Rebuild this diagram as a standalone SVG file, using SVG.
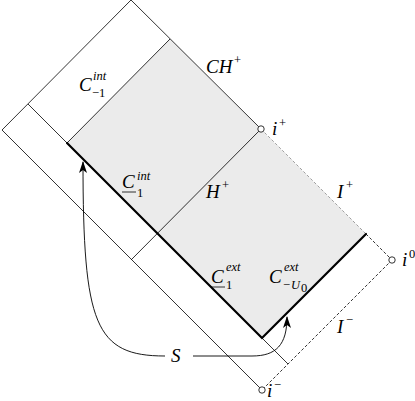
<svg xmlns="http://www.w3.org/2000/svg" width="415" height="401" viewBox="0 0 415 401">
<defs>
<style>
.thin{fill:none;stroke:#000;stroke-width:0.8}
.thick{fill:none;stroke:#000;stroke-width:2.2;stroke-linecap:round}
.dash{fill:none;stroke:#000;stroke-width:0.8;stroke-dasharray:3,2}
.dashg{fill:none;stroke:#888;stroke-width:0.8;stroke-dasharray:3,2}
.pt{fill:#fff;stroke:#000;stroke-width:0.8}
.m{font-family:"Liberation Serif",serif;font-style:italic;font-size:19px;fill:#000}
.s{font-family:"Liberation Serif",serif;font-style:italic;font-size:12.5px;fill:#000}
.r{font-family:"Liberation Serif",serif;font-size:12.5px;fill:#000}
.ul{stroke:#000;stroke-width:0.8}
.conn{fill:none;stroke:#000;stroke-width:0.9}
</style>
<marker id="ah" viewBox="0 0 12 8" refX="11" refY="4" markerWidth="12" markerHeight="8" markerUnits="userSpaceOnUse" orient="auto">
<path d="M0,0 L12,4 L0,8 L3,4 Z" fill="#000"/>
</marker>
</defs>
<rect width="415" height="401" fill="#fff"/>
<g id="shaded-region">
<polygon points="170,39 366,234 262,338 67,143" fill="#ebebeb"/>
</g>
<g id="spacetime">
<polyline class="thin" points="261,129 131,0 2,130 262,390"/>
<line class="thin" x1="28" y1="104" x2="67" y2="143"/>
<line class="thin" x1="170" y1="39" x2="67" y2="143"/>
<line class="thin" x1="262" y1="338" x2="288" y2="364"/>
<line class="thin" x1="261" y1="129" x2="131" y2="260"/>
<line class="dashg" x1="261" y1="129" x2="366" y2="234"/>
<line class="dash" x1="366" y1="234" x2="392" y2="260"/>
<line class="dash" x1="392" y1="260" x2="262" y2="390"/>
<polyline class="thick" points="67,143 262,338 366,234"/>
</g>
<g id="connectors">
<path class="conn" d="M165,356 C95,356 83,325 83,162" marker-end="url(#ah)"/>
<path class="conn" d="M193,356 L252,356 C276,356 287,345 287,317" marker-end="url(#ah)"/>
</g>
<g id="i-plus"><circle class="pt" cx="261" cy="129" r="3.2"/><text class="m" x="272" y="135">i</text><text class="r" x="279" y="127">+</text></g>
<g id="i-zero"><circle class="pt" cx="392" cy="260" r="3.2"/><text class="m" x="402" y="266">i</text><text class="r" x="409" y="258">0</text></g>
<g id="i-minus"><circle class="pt" cx="262" cy="390" r="3.2"/><text class="m" x="267" y="397" font-size="17">i</text><text class="r" x="274" y="389">−</text></g>
<g id="label-C-int-m1"><text class="m" x="79" y="91">C</text><text class="s" x="93" y="80">int</text><text class="r" x="92" y="97">−1</text></g>
<g id="label-CH-plus"><text class="m" x="206" y="73">CH</text><text class="r" x="234" y="64">+</text></g>
<g id="label-C1-int"><text class="m" x="122" y="188">C</text><line class="ul" x1="122" y1="192" x2="136" y2="192"/><text class="s" x="137" y="180">int</text><text class="r" x="137" y="197">1</text></g>
<g id="label-H-plus"><text class="m" x="206" y="198">H</text><text class="r" x="222" y="189">+</text></g>
<g id="label-I-plus"><text class="m" x="337" y="198">I</text><text class="r" x="346" y="189">+</text></g>
<g id="label-C1-ext"><text class="m" x="211" y="283">C</text><line class="ul" x1="211" y1="287" x2="225" y2="287"/><text class="s" x="226" y="271">ext</text><text class="r" x="226" y="289">1</text></g>
<g id="label-C-ext-U0"><text class="m" x="269" y="283">C</text><text class="s" x="284" y="271">ext</text><text class="r" x="283" y="289">−</text><text class="s" x="291" y="289">U</text><text class="r" x="301" y="292" font-size="9">0</text></g>
<g id="label-I-minus"><text class="m" x="337" y="333">I</text><text class="r" x="346" y="324">−</text></g>
<g id="label-S"><text class="m" x="171" y="362">S</text></g>
</svg>
